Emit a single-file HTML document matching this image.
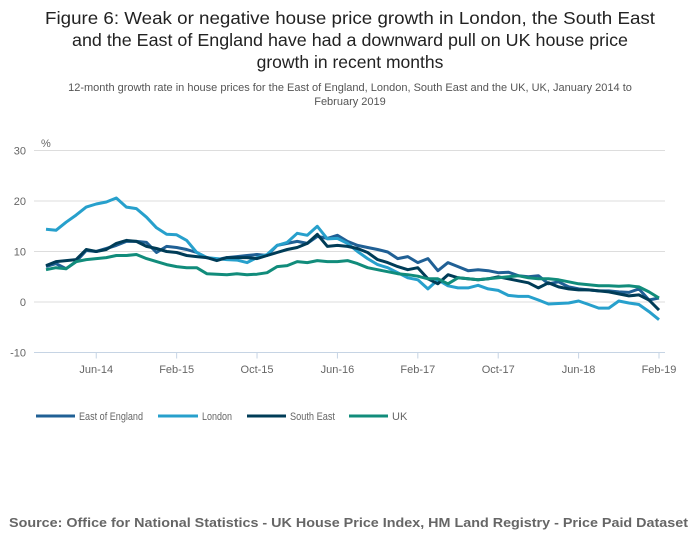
<!DOCTYPE html>
<html><head><meta charset="utf-8"><style>
body{margin:0;background:#fff;width:700px;height:549px;overflow:hidden;font-family:"Liberation Sans",sans-serif}
</style></head><body>
<svg id="chart" width="700" height="549" xmlns="http://www.w3.org/2000/svg" font-family="Liberation Sans, sans-serif">
<g font-size="17.5" fill="#222" text-anchor="middle">
<text x="350" y="24" textLength="610" lengthAdjust="spacingAndGlyphs">Figure 6: Weak or negative house price growth in London, the South East</text>
<text x="350" y="46" textLength="556" lengthAdjust="spacingAndGlyphs">and the East of England have had a downward pull on UK house price</text>
<text x="350" y="68">growth in recent months</text>
</g>
<g font-size="11" fill="#555" text-anchor="middle">
<text x="350" y="91">12-month growth rate in house prices for the East of England, London, South East and the UK, UK, January 2014 to</text>
<text x="350" y="105">February 2019</text>
</g>
<text x="41" y="147" font-size="11" fill="#666">%</text>
<g id="grid"></g><g id="xaxis"></g><g id="series"></g>
<g font-size="11" fill="#666">
<g><line x1="36" x2="75" y1="416" y2="416" stroke="#206095" stroke-width="3"/><text x="79" y="420" textLength="64" lengthAdjust="spacingAndGlyphs">East of England</text></g>
<g><line x1="158" x2="198" y1="416" y2="416" stroke="#27a0cc" stroke-width="3"/><text x="202" y="420" textLength="30" lengthAdjust="spacingAndGlyphs">London</text></g>
<g><line x1="247" x2="286" y1="416" y2="416" stroke="#003c57" stroke-width="3"/><text x="290" y="420" textLength="45" lengthAdjust="spacingAndGlyphs">South East</text></g>
<g><line x1="349" x2="388" y1="416" y2="416" stroke="#118c7b" stroke-width="3"/><text x="392" y="420">UK</text></g>
</g>
<text x="9" y="527" font-size="13" font-weight="bold" fill="#666" textLength="679" lengthAdjust="spacingAndGlyphs">Source: Office for National Statistics - UK House Price Index, HM Land Registry - Price Paid Dataset</text>
</svg>
<script>
const yTicks=[-10,0,10,20,30];
const xTickLabels=["Jun-14","Feb-15","Oct-15","Jun-16","Feb-17","Oct-17","Jun-18","Feb-19"];
const xTickIndex=[5,13,21,29,37,45,53,61];
const seriesNames=["East of England","London","South East","UK"];
const eastOfEngland=[7.0,7.6,6.6,8.0,10.2,10.0,10.6,11.2,12.0,12.0,11.8,9.8,11.0,10.8,10.4,9.8,8.8,8.4,8.8,9.0,9.2,9.4,9.2,11.2,11.6,12.0,11.6,13.0,12.6,13.2,12.0,11.2,10.8,10.4,9.9,8.6,9.0,7.8,8.6,6.2,7.8,7.0,6.2,6.4,6.2,5.8,5.9,5.2,5.0,5.2,3.6,4.0,3.0,2.6,2.4,2.2,2.2,2.0,1.9,2.6,0.4,0.8];
const london=[14.4,14.2,15.8,17.2,18.8,19.4,19.8,20.6,18.8,18.5,16.8,14.7,13.4,13.3,12.2,9.8,8.8,8.6,8.4,8.3,7.8,8.8,9.4,11.2,11.8,13.6,13.2,15.0,12.5,12.6,11.6,10.0,8.6,7.4,6.8,5.8,4.8,4.4,2.6,4.4,3.2,2.8,2.8,3.3,2.6,2.3,1.3,1.1,1.1,0.4,-0.4,-0.3,-0.2,0.2,-0.5,-1.2,-1.2,0.2,-0.2,-0.5,-1.9,-3.5];
const southEast=[7.2,8.0,8.2,8.4,10.4,10.0,10.4,11.6,12.2,12.0,11.0,10.6,10.0,9.8,9.2,9.0,8.8,8.2,8.8,8.8,8.8,8.6,9.2,9.8,10.4,10.8,11.6,13.4,11.0,11.2,11.0,10.6,9.8,8.4,7.8,7.0,6.4,6.8,4.6,3.6,5.4,4.8,4.6,4.4,4.6,5.0,4.6,4.2,3.8,2.8,3.8,3.0,2.6,2.4,2.4,2.2,2.0,1.6,1.2,1.4,0.4,-1.6];
const uk=[6.4,6.8,6.6,8.0,8.4,8.6,8.8,9.2,9.2,9.4,8.6,8.0,7.4,7.0,6.8,6.8,5.6,5.5,5.4,5.6,5.4,5.5,5.8,7.0,7.2,8.0,7.8,8.2,8.0,8.0,8.2,7.6,6.8,6.4,6.0,5.6,5.4,5.1,4.6,4.6,3.6,4.8,4.6,4.4,4.6,4.8,5.0,5.2,4.8,4.6,4.6,4.4,4.0,3.6,3.4,3.2,3.2,3.1,3.2,3.0,2.0,0.8];
const seriesData=[eastOfEngland,london,southEast,uk];
const colors=["#206095","#27a0cc","#003c57","#118c7b"];
const ns="http://www.w3.org/2000/svg";
const x0=46,x1=659,y0=302,yPer=5.05;
function xs(i){return x0+(x1-x0)*i/61;}
function ys(v){return y0-v*yPer;}
function mk(tag,attrs,parent){const e=document.createElementNS(ns,tag);for(const k in attrs)e.setAttribute(k,attrs[k]);parent.appendChild(e);return e;}
const grid=document.getElementById('grid');
yTicks.forEach(t=>{
  const y=ys(t);
  if(t!==-10){const l=mk('line',{x1:34,x2:665,y1:y,y2:y,stroke:'#ddd','stroke-width':1},grid);
  
  }
  const tx=mk('text',{x:26,y:y+4,'font-size':11,fill:'#666','text-anchor':'end'},grid);
  tx.textContent=t;
  
  
});
const xa=document.getElementById('xaxis');
const axl=mk('line',{x1:34,x2:665,y1:ys(-10),y2:ys(-10),stroke:'#c6d4e4','stroke-width':1},xa);


xTickLabels.forEach((lab,k)=>{
  const x=xs(xTickIndex[k]);
  const tk=mk('line',{x1:x,x2:x,y1:ys(-10),y2:ys(-10)+6,stroke:'#c6d4e4'},xa);
  
  
  const tx=mk('text',{x:x,y:373,'font-size':11,fill:'#666','text-anchor':'middle'},xa);
  tx.textContent=lab;
  
  
});
const sg=document.getElementById('series');
seriesData.forEach((arr,s)=>{
  const pts=arr.map((v,i)=>xs(i).toFixed(1)+','+ys(v).toFixed(1)).join(' ');
  const p=mk('polyline',{points:pts,fill:'none',stroke:colors[s],'stroke-width':3,'stroke-linejoin':'round'},sg);
  
  
});
</script>
</body></html>
